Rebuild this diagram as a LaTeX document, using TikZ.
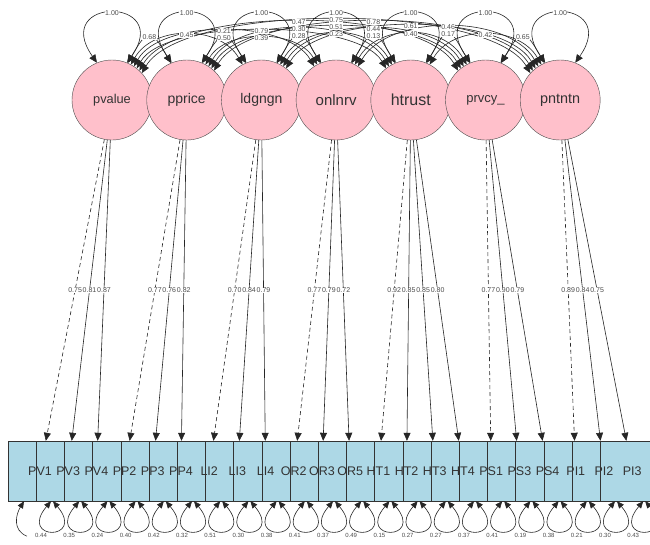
\documentclass[tikz,border=0pt]{standalone}
\usepackage{fontspec}
\setmainfont{Liberation Sans}
\usetikzlibrary{arrows.meta}

\definecolor{latpink}{RGB}{255,192,203}
\definecolor{manblue}{RGB}{173,216,230}
\newcommand\fsz[1]{\fontsize{#1}{#1}\selectfont}

% latent name / printed text / column / font size
\def\latlist{pvalue/pvalue/0/12.8,pprice/pprice/1/14,ldgngn/ldgngn/2/14,onlnrv/onlnrv/3/15,
  htrust/htrust/4/16,prvcy/prvcy\_/5/13,pntntn/pntntn/6/14.4}
% indicator / column
\def\manlist{PV1/0,PV3/1,PV4/2,PP2/3,PP3/4,PP4/5,LI2/6,LI3/7,LI4/8,OR2/9,OR3/10,OR5/11,
  HT1/12,HT2/13,HT3/14,HT4/15,PS1/16,PS3/17,PS4/18,PI1/19,PI2/20,PI3/21}
% latent / indicator / loading / line
\def\loadlist{pvalue/PV1/0.75/fix,pvalue/PV3/0.81/free,pvalue/PV4/0.87/free,
  pprice/PP2/0.77/fix,pprice/PP3/0.76/free,pprice/PP4/0.82/free,
  ldgngn/LI2/0.70/fix,ldgngn/LI3/0.84/free,ldgngn/LI4/0.79/free,
  onlnrv/OR2/0.77/fix,onlnrv/OR3/0.79/free,onlnrv/OR5/0.72/free,
  htrust/HT1/0.92/fix,htrust/HT2/0.85/free,htrust/HT3/0.85/free,htrust/HT4/0.80/free,
  prvcy/PS1/0.77/fix,prvcy/PS3/0.90/free,prvcy/PS4/0.79/free,
  pntntn/PI1/0.89/fix,pntntn/PI2/0.84/free,pntntn/PI3/0.75/free}
% indicator / residual variance
\def\residlist{PV1/0.44,PV3/0.35,PV4/0.24,PP2/0.40,PP3/0.42,PP4/0.32,LI2/0.51,LI3/0.30,
  LI4/0.38,OR2/0.41,OR3/0.37,OR5/0.49,HT1/0.15,HT2/0.27,HT3/0.27,HT4/0.37,PS1/0.41,
  PS3/0.19,PS4/0.38,PI1/0.21,PI2/0.30,PI3/0.43}
% from / to / distance / covariance / height of the label
\def\covlist{pvalue/pprice/1/0.68/37,pvalue/ldgngn/2/0.45/35,pvalue/onlnrv/3/0.21/31,
  pprice/ldgngn/1/0.50/38,pvalue/htrust/4/0.79/31,pprice/onlnrv/2/0.39/38,
  pvalue/prvcy/5/0.47/22,pprice/htrust/3/0.30/29,ldgngn/onlnrv/1/0.28/36,
  pvalue/pntntn/6/0.75/20,pprice/prvcy/4/0.51/27,ldgngn/htrust/2/0.23/34,
  pprice/pntntn/5/0.78/22,ldgngn/prvcy/3/0.44/29,onlnrv/htrust/1/0.13/36,
  ldgngn/pntntn/4/0.61/26,onlnrv/prvcy/2/0.40/34,onlnrv/pntntn/3/0.46/27,
  htrust/prvcy/1/0.17/34,htrust/pntntn/2/0.42/35,prvcy/pntntn/1/0.65/37}

\begin{document}
\begin{tikzpicture}[x=1pt,y=1pt,
  lat/.style={circle,draw=black!70,fill=latpink,minimum size=80pt,inner sep=0pt,text=black!80},
  man/.style={rectangle,draw=black!80,fill=manblue,minimum width=64pt,minimum height=60pt,inner sep=0pt},
  manlab/.style={font=\fsz{12.5},text=black!80},
  lab/.style={fill=white,inner sep=0.4pt,text=black!70,font=\fsz{7}},
  rlab/.style={lab,font=\fsz{6}},
  load/.style={-{Triangle[length=8pt,width=7pt]},black!85,line width=0.6pt},
  fix/.style={dash pattern=on 4pt off 3pt},
  free/.style={},
  cov/.style={{Triangle[length=8pt,width=7pt]}-{Triangle[length=8pt,width=7pt]},black!85,line width=0.6pt},
  resid/.style={{Triangle[length=7pt,width=6pt]}-{Triangle[length=7pt,width=6pt]},black!85,line width=0.6pt}]
\fill[white] (0,0) rectangle (650,-544);
\useasboundingbox (0,0) rectangle (650,-544);

% indicators: boxes first, names on top of all boxes
\foreach \n/\i in \manlist
  \node[man] (\n) at (40+28.2*\i,-471) {};
\foreach \n/\i in \manlist
  \node[manlab] at (\n) {\n};

% latent factors
\foreach \n/\t/\i/\s in \latlist
  \node[lat,font=\fsz{\s}] (\n) at (112+74.7*\i,-100) {\t};

% loadings
\foreach \l/\m/\v/\s in \loadlist
  \draw[load,\s] (\l) -- (\m);

% residual variances
\foreach \m/\v in \residlist
  \draw[resid] ([xshift=11pt]\m.south) .. controls +(-130:52pt) and +(-50:52pt) .. ([xshift=13pt]\m.south);
\coordinate (pvtail) at ([xshift=-13pt,yshift=-35pt]PV1.south);
\draw[-{Triangle[length=7pt,width=6pt]},black!85,line width=0.6pt]
  (pvtail) .. controls +(-15,6) and +(-8,-13) .. ([xshift=-16pt]PV1.south);

% factor variances
\foreach \n/\t/\i/\s in \latlist
  \draw[cov] (\n.112) .. controls +(125:81pt) and +(55:81pt) .. (\n.68);

% factor covariances
\foreach \p/\q/\k/\v/\y in \covlist {
  \pgfmathtruncatemacro\ang{72-5*\k}
  \pgfmathtruncatemacro\bng{108+5*\k}
  \pgfmathsetmacro\h{(100-40*sin(\ang)-\y)/0.6495}
  \draw[cov] (\p.\ang) .. controls +(60:\h pt) and +(120:\h pt) .. (\q.\bng);
}

% labels go last so no line runs over them
\foreach \l/\m/\v/\s in \loadlist
  \path (\l) -- (\m) node[lab,midway] {\v};
\foreach \m/\v in \residlist
  \node[rlab] at ([xshift=1pt,yshift=-34pt]\m.south) {\v};
\foreach \n/\t/\i/\s in \latlist
  \path (\n.112) .. controls +(125:81pt) and +(55:81pt) .. (\n.68) node[lab,pos=0.5] {1.00};
\foreach \p/\q/\k/\v/\y in \covlist {
  \pgfmathtruncatemacro\ang{72-5*\k}
  \pgfmathtruncatemacro\bng{108+5*\k}
  \pgfmathsetmacro\h{(100-40*sin(\ang)-\y)/0.6495}
  \path (\p.\ang) .. controls +(60:\h pt) and +(120:\h pt) .. (\q.\bng) node[lab,pos=0.5] {\v};
}
\end{tikzpicture}
\end{document}
